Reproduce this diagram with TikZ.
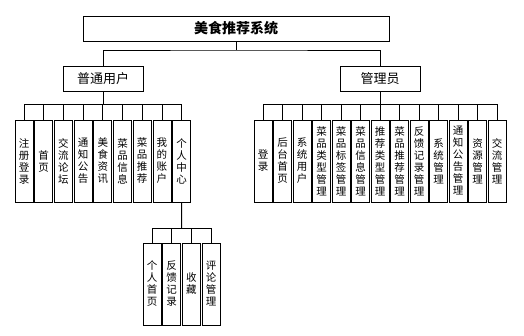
\documentclass[tikz,border=0pt]{standalone}
\usepackage{fontspec}
\newfontfamily\cjk{Noto Sans CJK SC}
\tikzset{
  box/.style={draw, line width=0.8pt, inner sep=0pt, minimum width=80pt, minimum height=25pt,
    font=\cjk\fontsize{13}{15}\selectfont},
  leaf/.style={draw, line width=0.8pt, inner sep=0pt, minimum width=18pt, minimum height=82pt,
    align=center, font=\cjk\fontsize{10.5}{12}\selectfont},
  link/.style={line width=0.8pt}
}
\begin{document}
\begin{tikzpicture}[x=1pt, y=-1pt]
    \useasboundingbox (0,0) rectangle (524,335);

    % Top levels
    \node[box, minimum width=306pt, font=\cjk\bfseries\fontsize{14}{16}\selectfont] (root) at (236,28.5) {美食推荐系统};
    \node[box] (user) at (103,78.5) {普通用户};
    \node[box] (admin) at (380,78.5) {管理员};

    \coordinate (rbus) at (236,50);
    \draw[link] (root) -- (rbus);
    \draw[link] (user.north) |- (rbus) -| (admin.north);

    % Ordinary user modules
    \foreach \t [count=\i] in {{注\\册\\登\\录},{首\\页},{交\\流\\论\\坛},{通\\知\\公\\告},{美\\食\\资\\讯},
                               {菜\\品\\信\\息},{菜\\品\\推\\荐},{我\\的\\账\\户},{个\\人\\中\\心}} {
        \node[leaf] (u\i) at ({24+(\i-1)*19.7},161) {\t};
    }
    \coordinate (ubus) at (103,104);
    \draw[link] (user) -- (ubus);
    \foreach \i in {1,...,9}
        \draw[link] (u\i.north) |- (ubus);

    % Administrator modules
    \foreach \t [count=\i] in {{登\\录},{后\\台\\首\\页},{系\\统\\用\\户},{菜\\品\\类\\型\\管\\理},
                               {菜\\品\\标\\签\\管\\理},{菜\\品\\信\\息\\管\\理},{推\\荐\\类\\型\\管\\理},
                               {菜\\品\\推\\荐\\管\\理},{反\\馈\\记\\录\\管\\理},{系\\统\\管\\理},
                               {通\\知\\公\\告\\管\\理},{资\\源\\管\\理},{交\\流\\管\\理}} {
        \node[leaf] (a\i) at ({263+(\i-1)*19.5},161) {\t};
    }
    \coordinate (abus) at (380,104);
    \draw[link] (admin) -- (abus);
    \foreach \i in {1,...,13}
        \draw[link] (a\i.north) |- (abus);

    % Personal centre
    \foreach \t [count=\i] in {{个\\人\\首\\页},{反\\馈\\记\\录},{收\\藏},{评\\论\\管\\理}} {
        \node[leaf] (c\i) at ({152+(\i-1)*19.67},284) {\t};
    }
    \coordinate (cbus) at (181.6,228);
    \draw[link] (u9) -- (cbus);
    \foreach \i in {1,...,4}
        \draw[link] (c\i.north) |- (cbus);
\end{tikzpicture}
\end{document}
